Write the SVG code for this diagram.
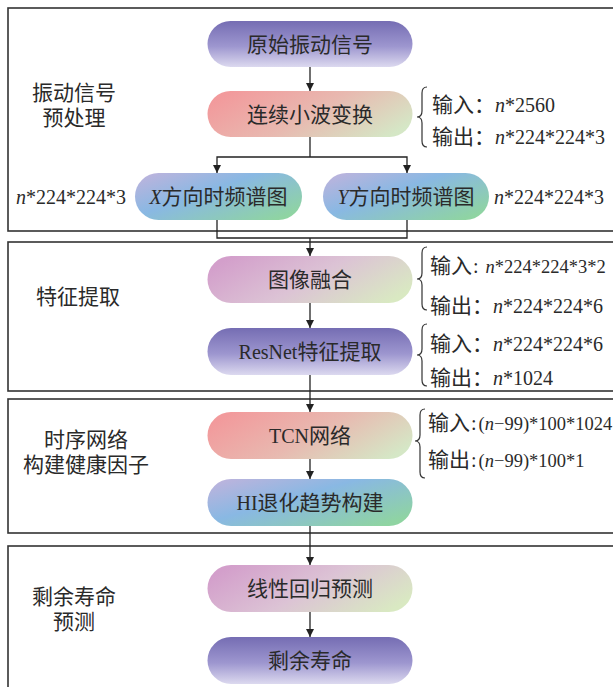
<svg xmlns="http://www.w3.org/2000/svg" width="613" height="687" viewBox="0 0 613 687">
<style>
.panel{fill:none;stroke:#333;stroke-width:1.6}
.t{font-family:"Liberation Serif","Noto Sans CJK SC",serif;font-size:21px;fill:#2a2a2a}
.l{font-family:"Liberation Serif",serif;font-size:20px}
.s{font-family:"Liberation Serif",serif;font-size:18.5px}
.i{font-style:italic}
.mid{text-anchor:middle}
.end{text-anchor:end}
.con{fill:none;stroke:#222;stroke-width:1.3}
.brace{fill:none;stroke:#333;stroke-width:1.2}
</style>
<defs>
<marker id="ah" viewBox="0 0 10 10" refX="10" refY="5" markerWidth="8" markerHeight="8" markerUnits="userSpaceOnUse" orient="auto">
<path d="M0,0 L10,5 L0,10 z" fill="#222"/>
</marker>
<linearGradient id="gPurple" x1="0" y1="0" x2="0" y2="1">
<stop offset="0" stop-color="#756db3"/>
<stop offset="0.55" stop-color="#9d96cf"/>
<stop offset="1" stop-color="#dcd9ef"/>
</linearGradient>
<linearGradient id="gRed" x1="0" y1="0.3" x2="1" y2="0.7">
<stop offset="0" stop-color="#f29a9c"/>
<stop offset="0.5" stop-color="#e8b9b0"/>
<stop offset="1" stop-color="#d5e7c6"/>
</linearGradient>
<linearGradient id="gSpec" x1="0" y1="0" x2="1" y2="0.8">
<stop offset="0" stop-color="#c2b3dc"/>
<stop offset="0.45" stop-color="#89b8e3"/>
<stop offset="1" stop-color="#8fd4a2"/>
</linearGradient>
<linearGradient id="gPink" x1="0" y1="0.3" x2="1" y2="0.7">
<stop offset="0" stop-color="#d39fcb"/>
<stop offset="0.5" stop-color="#dcc3d5"/>
<stop offset="1" stop-color="#d9e9c2"/>
</linearGradient>
</defs>
<rect x="0" y="0" width="613" height="687" fill="#fff"/>

<g id="panels">
<rect class="panel" x="8" y="8" width="620" height="223"/>
<rect class="panel" x="8" y="242" width="620" height="149"/>
<rect class="panel" x="8" y="399" width="620" height="134"/>
<rect class="panel" x="8" y="546" width="620" height="160"/>
<text class="t mid" x="74" y="100">振动信号</text>
<text class="t mid" x="74" y="125">预处理</text>
<text class="t mid" x="78" y="304">特征提取</text>
<text class="t mid" x="86" y="447">时序网络</text>
<text class="t mid" x="86" y="472">构建健康因子</text>
<text class="t mid" x="74" y="604">剩余寿命</text>
<text class="t mid" x="74" y="629">预测</text>
</g>

<g id="connectors">
<path class="con" d="M310 67 V91" marker-end="url(#ah)"/>
<path class="con" d="M310 137 V157"/>
<path class="con" d="M310 157 H217 V173" marker-end="url(#ah)"/>
<path class="con" d="M310 157 H407 V173" marker-end="url(#ah)"/>
<path class="con" d="M217 220 V238 H407 V220"/>
<path class="con" d="M310 238 V256" marker-end="url(#ah)"/>
<path class="con" d="M310 303 V328" marker-end="url(#ah)"/>
<path class="con" d="M310 375 V412" marker-end="url(#ah)"/>
<path class="con" d="M310 459 V479" marker-end="url(#ah)"/>
<path class="con" d="M310 526 V565" marker-end="url(#ah)"/>
<path class="con" d="M310 612 V637" marker-end="url(#ah)"/>
</g>

<g id="n1">
<rect x="207.5" y="21" width="205" height="46" rx="23" fill="url(#gPurple)"/>
<text class="t mid" x="310" y="51.5">原始振动信号</text>
</g>
<g id="n2">
<rect x="207.5" y="91" width="205" height="46" rx="23" fill="url(#gRed)"/>
<text class="t mid" x="310" y="121.5">连续小波变换</text>
</g>
<g id="n2info">
<path class="brace" d="M427 87 Q422 87 422 93 V111 Q422 117 417 117 Q422 117 422 123 V141 Q422 147 427 147"/>
<text class="t" x="432" y="111.5">输入：<tspan class="l i">n</tspan><tspan class="l">*2560</tspan></text>
<text class="t" x="432" y="143.5">输出：<tspan class="l i">n</tspan><tspan class="l">*224*224*3</tspan></text>
</g>
<g id="n3">
<rect x="135" y="173" width="167" height="47" rx="23.5" fill="url(#gSpec)"/>
<text class="t mid" x="218.5" y="204"><tspan class="l i">X</tspan>方向时频谱图</text>
<text class="t end" x="126" y="204"><tspan class="l i">n</tspan><tspan class="l">*224*224*3</tspan></text>
</g>
<g id="n4">
<rect x="323" y="173" width="166" height="47" rx="23.5" fill="url(#gSpec)"/>
<text class="t mid" x="406" y="204"><tspan class="l i">Y</tspan>方向时频谱图</text>
<text class="t" x="494" y="204"><tspan class="l i">n</tspan><tspan class="l">*224*224*3</tspan></text>
</g>
<g id="n5">
<rect x="207.5" y="256" width="205" height="47" rx="23.5" fill="url(#gPink)"/>
<text class="t mid" x="310" y="287">图像融合</text>
</g>
<g id="n5info">
<path class="brace" d="M427 247 Q422 247 422 253 V273 Q422 279 417 279 Q422 279 422 285 V304 Q422 310 427 310"/>
<text class="t" x="430" y="272.5">输入<tspan class="l" dx="1">:</tspan><tspan class="s i" dx="7">n</tspan><tspan class="s">*224*224*3*2</tspan></text>
<text class="t" x="430" y="312.5">输出：<tspan class="l i">n</tspan><tspan class="l">*224*224*6</tspan></text>
</g>
<g id="n6">
<rect x="207.5" y="328" width="205" height="47" rx="23.5" fill="url(#gPurple)"/>
<text class="t mid" x="310" y="359"><tspan class="l">ResNet</tspan>特征提取</text>
</g>
<g id="n6info">
<path class="brace" d="M427 324 Q422 324 422 330 V349 Q422 355 417 355 Q422 355 422 361 V380 Q422 386 427 386"/>
<text class="t" x="430" y="350.5">输入：<tspan class="l i">n</tspan><tspan class="l">*224*224*6</tspan></text>
<text class="t" x="430" y="384.5">输出：<tspan class="l i">n</tspan><tspan class="l">*1024</tspan></text>
</g>
<g id="n7">
<rect x="207.5" y="412" width="205" height="47" rx="23.5" fill="url(#gRed)"/>
<text class="t mid" x="310" y="443"><tspan class="l">TCN</tspan>网络</text>
</g>
<g id="n7info">
<path class="brace" d="M425 409 Q420 409 420 415 V435 Q420 441 415 441 Q420 441 420 447 V472 Q420 478 425 478"/>
<text class="t" x="428" y="429.5">输入<tspan class="l" dx="1">:</tspan><tspan class="s" dx="2">(</tspan><tspan class="s i">n</tspan><tspan class="s">−99)*100*1024</tspan></text>
<text class="t" x="428" y="466.5">输出<tspan class="l" dx="1">:</tspan><tspan class="s" dx="2">(</tspan><tspan class="s i">n</tspan><tspan class="s">−99)*100*1</tspan></text>
</g>
<g id="n8">
<rect x="207.5" y="479" width="205" height="47" rx="23.5" fill="url(#gSpec)"/>
<text class="t mid" x="310" y="510"><tspan class="l">HI</tspan>退化趋势构建</text>
</g>
<g id="n9">
<rect x="207.5" y="565" width="205" height="47" rx="23.5" fill="url(#gPink)"/>
<text class="t mid" x="310" y="596">线性回归预测</text>
</g>
<g id="n10">
<rect x="207.5" y="637" width="205" height="47" rx="23.5" fill="url(#gPurple)"/>
<text class="t mid" x="310" y="668">剩余寿命</text>
</g>
</svg>
